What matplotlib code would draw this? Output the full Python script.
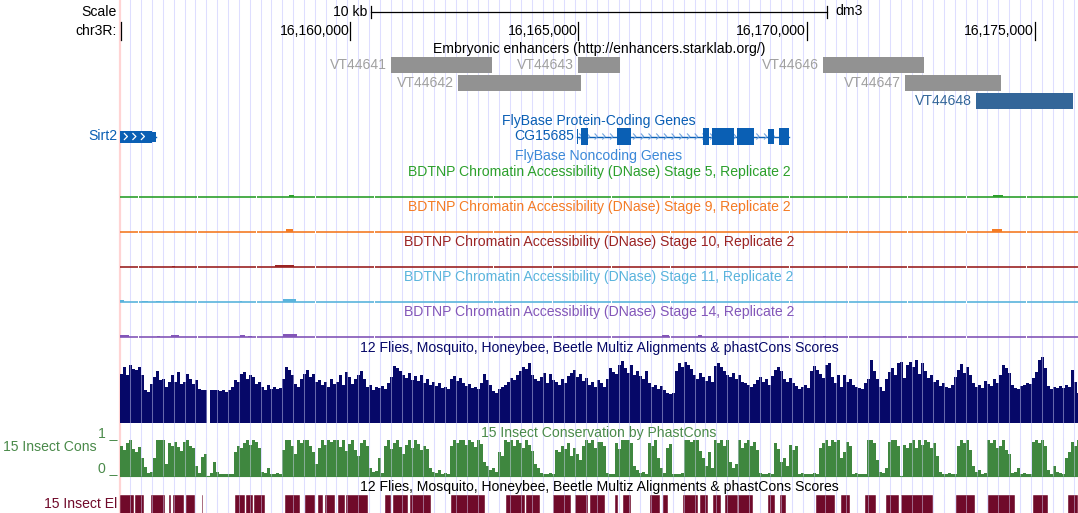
import numpy as np
import matplotlib
matplotlib.use("Agg")
import matplotlib.pyplot as plt
from matplotlib.patches import Rectangle

plt.rcParams['font.family'] = ['Liberation Sans', 'DejaVu Sans']
plt.rcParams['font.size'] = 10.1

W, H = 1078, 513
LEFT = 120  # first pixel of the data panel

# ---- region shown ----
CHROM = "chr3R"
VIEW_START = 16154960
VIEW_END = 16175940
TICKS = [16160000, 16165000, 16170000, 16175000]
SCALE_BAR_BP = 10000

# ---- Embryonic enhancers (starklab) ----
ENH_NAMES = ["VT44641", "VT44642", "VT44643", "VT44646", "VT44647", "VT44648"]
ENH_START = [16160895, 16162362, 16164990, 16170356, 16172152, 16173706]
ENH_END = [16163107, 16165056, 16165910, 16172568, 16174254, 16175831]

# ---- FlyBase genes ----
GENE_NAMES = ["Sirt2", "CG15685"]
GENE_TX = [(16150000, 16155748), (16164968, 16169611)]
GENE_CDS = [(16150000, 16154000), (16164968, 16169611)]
GENE_EXONS = [
    [(16150000, 16155652), (16155652, 16155748)],
    [(16164968, 16164990), (16165056, 16165202), (16165838, 16166151),
     (16167721, 16167859), (16167931, 16168407), (16168465, 16168845),
     (16169158, 16169283), (16169399, 16169611)],
]

# ---- BDTNP DNase accessibility, replicate 2 (start, end, signal) ----
DNASE_STAGES = [5, 9, 10, 11, 14]
DNASE_PEAKS = [
    [(16158661, 16158771, 1.5), (16174079, 16174298, 2.0)],
    [(16158595, 16158749, 2.5), (16174057, 16174276, 3.0)],
    [(16156099, 16156165, 1.0), (16158355, 16158771, 1.5)],
    [(16154960, 16155048, 1.5), (16155442, 16155573, 1.0), (16155748, 16155858, 1.0),
     (16156099, 16156230, 1.0), (16157588, 16157632, 1.0), (16158530, 16158814, 2.5)],
    [(16154960, 16155157, 1.5), (16155770, 16155836, 1.0), (16156077, 16156252, 1.5),
     (16157588, 16157698, 1.5), (16157763, 16157851, 1.0), (16158530, 16158836, 2.5),
     (16164530, 16164596, 1.0), (16166830, 16166983, 1.5), (16167618, 16167706, 1.5),
     (16170356, 16170421, 1.0)],
]

# ---- 12 flies multiz conservation, summarised in equal bins across the view ----
MULTIZ_SCORE = [
    .70, .80, .69, .83, .77, .76, .80, .69, .47, .44, .56, .66, .74, .61, .63, .51, .59, .69, .59, .73,
    .56, .59, .70, .63, .56, .61, .49, .47, .47, 0, .47, .47, .47, .46, .47, .44, .47, .51, .61, .59,
    .70, .73, .63, .69, .66, .56, .59, .51, .47, .54, .49, .51, .49, .50, .63, .80, .76, .69, .56, .51,
    .63, .70, .76, .66, .70, .59, .61, .54, .59, .51, .63, .56, .59, .69, .54, .73, .66, .56, .63, .69,
    .74, .63, .51, .54, .47, .51, .50, .53, .49, .57, .66, .81, .79, .74, .69, .64, .71, .61, .67, .60,
    .69, .57, .63, .54, .59, .53, .57, .50, .51, .49, .63, .67, .60, .64, .57, .53, .56, .50, .51, .49,
    .57, .70, .61, .54, .46, .43, .49, .51, .54, .59, .64, .61, .69, .74, .80, .77, .86, .69, .63, .60,
    .66, .71, .57, .70, .61, .59, .54, .63, .57, .67, .71, .76, .66, .70, .60, .64, .54, .59, .51, .61,
    .57, .51, .63, .79, .73, .70, .83, .89, .79, .71, .83, .69, .74, .67, .63, .74, .57, .51, .54, .49,
    .53, .47, .43, .41, .43, .74, .86, .80, .87, .83, .77, .69, .63, .71, .66, .60, .67, .59, .81, .86,
    .80, .74, .69, .66, .71, .63, .69, .59, .57, .54, .51, .56, .61, .66, .59, .63, .54, .67, .76, .80,
    .74, .63, .59, .64, .57, .53, .49, .51, .54, .50, .74, .81, .76, .70, .64, .83, .86, .66, .57, .69,
    .51, .69, .59, .63, .54, .51, .50, .49, .57, .63, .90, .74, .63, .51, .46, .63, .73, .79, .69, .86,
    .87, .64, .83, .87, .80, .90, .70, .86, .74, .64, .69, .59, .61, .53, .57, .51, .50, .54, .66, .76,
    .84, .71, .80, .69, .57, .51, .54, .50, .60, .56, .53, .63, .57, .69, .83, .79, .71, .54, .50, .49,
    .53, .54, .57, .56, .64, .73, .90, .94, .79, .53, .49, .51, .50, .53, .50, .54, .51, .76, .59, .43,
]

# ---- 15 insect phastCons, same bins ----
PHASTCONS = [
    .83, .72, .92, 1, .75, .67, .81, .50, .25, .08, .11, .50, 1, 1, 1, .33, .92, .83, .94, .81,
    .69, .94, 1, .83, .78, .28, .08, .53, .61, 0, .08, .39, .11, .06, .06, .06, .06, .06, .67, .83,
    .78, .92, 1, .86, 1, .94, .78, .11, .08, .22, .06, .06, .08, .06, .72, 1, 1, .83, .61, 1,
    .92, 1, 1, .83, .67, .33, .78, 1, .86, 1, .94, 1, 1, .81, 1, .69, .89, 1, .72, .56,
    .92, 1, .83, .22, .11, .14, .50, .08, .83, 1, .75, .92, 1, .81, .61, .86, 1, .78, 1, .89,
    .72, .83, .75, .22, .11, .08, .17, .06, .08, .06, .83, 1, .92, 1, 1, .86, 1, .94, .81, 1,
    .89, .39, .28, .17, .22, .11, .67, .56, 1, .94, 1, .83, 1, .92, .78, 1, .86, .69, .33, .22,
    .08, .06, .06, .08, .06, .72, .67, .83, .75, .92, .56, .78, .61, .44, .83, 1, .92, 1, .78, .94,
    .94, .83, .08, .06, .06, .92, .75, 1, 1, 1, .92, .28, .17, .08, .11, .06, .92, .83, 1, .50,
    .22, .08, .78, .89, .06, .06, .06, .08, 1, 1, .94, 1, 1, .69, .50, .28, .67, .22, 1, .92,
    1, .83, 1, .39, .22, .33, 1, .78, .92, 1, .83, .94, .72, .08, .06, .06, .08, .06, .92, .75,
    .39, .50, .28, .86, .72, .83, .06, .08, .06, .06, .06, .08, .06, .78, .92, 1, .83, 1, .94, 1,
    .50, .67, .94, .83, .06, .08, .06, .06, .06, 1, 1, .92, .44, .11, .08, .22, .94, 1, 1, .83,
    0, .86, .78, .92, 1, .78, 1, .86, 1, .94, .78, .92, .56, .11, .06, .06, .08, .06, .06, .83,
    1, .92, 1, .72, .28, .11, .17, .06, .08, 1, .92, 1, .78, .83, 1, .72, .61, .08, .11, .22,
    .06, .08, .06, .06, .94, 1, .92, 1, .83, .17, .06, .28, .11, .08, .06, .50, .67, .94, .83, 1,
]

# ---- 15 insect conserved elements ----
ELEM_START = [16154960, 16155295, 16155645, 16156026, 16156121, 16156412, 16156762, 16157472,
              16157726, 16157895, 16158567, 16159005, 16159296, 16159443, 16159734, 16159916,
              16160757, 16160939, 16161304, 16162215, 16163420, 16163858, 16164443, 16164918,
              16165246, 16165794, 16165976, 16166560, 16166852, 16167290, 16167655, 16167947,
              16168203, 16168505, 16169151, 16169405, 16170209, 16170756, 16171269, 16171742,
              16172070, 16173275, 16173969, 16174955, 16175721]
ELEM_END = [16155267, 16155486, 16155939, 16156083, 16156362, 16156596, 16156784, 16157691,
            16157873, 16158129, 16158895, 16159224, 16159406, 16159662, 16159881, 16160391,
            16160899, 16161267, 16161764, 16162947, 16163821, 16164151, 16164844, 16165209,
            16165575, 16165866, 16166157, 16166779, 16166961, 16167618, 16167837, 16168128,
            16168494, 16168823, 16169298, 16169550, 16170612, 16170940, 16171523, 16172012,
            16172765, 16173676, 16174553, 16175283, 16175940]

# ---- colours ----
GRID = '#dedeff'
ENH_GREY, ENH_LABEL = '#929292', '#a0a0a0'
ENH_HIGHLIGHT = {"VT44648": '#336699'}
GENE_BLUE = '#0a5fb4'
NONCODING_BLUE = '#3b88d8'
DNASE_COLORS = ['#2ca02c', '#f47b25', '#9b2323', '#5ab4dc', '#8356b8']
NAVY = '#060868'
CONS_GREEN = '#3f873f'
ELEM_RED = '#700a2a'

bp_per_px = (VIEW_END - VIEW_START) / (W - LEFT)


def px(n):
    return n * bp_per_px


fig = plt.figure(figsize=(W / 100, H / 100), dpi=100)
base = fig.add_axes([0, 0, 1, 1])
base.set_xlim(0, W)
base.set_ylim(H, 0)
base.axis('off')
ax = fig.add_axes([LEFT / W, 0, (W - LEFT) / W, 1], facecolor='none')
ax.set_xlim(VIEW_START, VIEW_END)
ax.set_ylim(H, 0)
ax.axis('off')
mid = (VIEW_START + VIEW_END) / 2

# guide lines and the panel edge
base.axvline(119.5, color='#ffd4d4', lw=1.6, zorder=0)
grid_x = [VIEW_START + px(p - LEFT) for p in np.arange(130.3, W, 10.85)]
for g in grid_x:
    ax.axvline(g, color=GRID, lw=0.75, zorder=0)

# scale bar
b0, b1 = mid - SCALE_BAR_BP / 2, mid + SCALE_BAR_BP / 2
ax.plot([b0, b1], [12, 12], color='k', lw=0.9)
ax.plot([b0, b0], [6, 18], color='k', lw=0.9)
ax.plot([b1, b1], [6, 18], color='k', lw=0.9)
ax.text(b0 - px(3), 12, f"{SCALE_BAR_BP // 1000} kb", ha='right', va='center')
ax.text(b1 + px(8), 11, "dm3", ha='left', va='center')
base.text(117, 12, "Scale", ha='right', va='center')

# base position ruler
base.text(117, 31, CHROM + ":", ha='right', va='center')
ax.plot([VIEW_START + px(0.7)] * 2, [22, 40], color='k', lw=0.9)
for t in TICKS:
    ax.plot([t, t], [22, 40], color='k', lw=0.9)
    ax.text(t - px(1), 31, f"{t:,}", ha='right', va='center')

# enhancers, packed into rows leaving room for the labels
ax.text(mid, 49, "Embryonic enhancers (http://enhancers.starklab.org/)", ha='center', va='center')
row_end = []
order = np.argsort(ENH_START)
for k in order:
    s, e, name = ENH_START[k], ENH_END[k], ENH_NAMES[k]
    row = None
    for r, end in enumerate(row_end):
        if s - px(64) > end:
            row = r
            break
    if row is None:
        row = len(row_end)
        row_end.append(e)
    row_end[row] = e
    yc = 65 + 18 * row
    box = ENH_HIGHLIGHT.get(name, ENH_GREY)
    lab = ENH_HIGHLIGHT.get(name, ENH_LABEL)
    ax.add_patch(Rectangle((s, yc - 8), e - s, 16, color=box, lw=0))
    ax.text(s - px(4), yc, name, ha='right', va='center', color=lab)


def chevrons(x0, x1, y, color, step=7.7, lw=0.8):
    for c in np.arange(x0 + px(step / 2), x1 - px(2), px(step)):
        ax.plot([c - px(1.6), c + px(1.2), c - px(1.6)], [y - 3, y, y + 3],
                color=color, lw=lw, solid_capstyle='butt', zorder=4)


# FlyBase genes
ax.text(mid, 121, "FlyBase Protein-Coding Genes", ha='center', va='center', color=GENE_BLUE)
gy = 136.5
for name, (t0, t1), (c0, c1), exons in zip(GENE_NAMES, GENE_TX, GENE_CDS, GENE_EXONS):
    v0, v1 = max(t0, VIEW_START), min(t1, VIEW_END)
    ax.plot([v0, v1], [gy, gy], color=GENE_BLUE, lw=1, zorder=3)
    chevrons(v0, v1, gy, '#6fa3e0')
    for e0, e1 in exons:
        a, b = max(e0, VIEW_START), min(e1, VIEW_END)
        h = 17 if (e0 >= c0 and e1 <= c1) else 12
        if b - a < px(6):
            h -= 2
        ax.add_patch(Rectangle((a, gy - h / 2), b - a, h, color=GENE_BLUE, lw=0, zorder=5))
        if b - a > px(28):
            for c in np.arange(a + px(6), b - px(4), px(8.5)):
                ax.plot([c - px(1.6), c + px(1.4), c - px(1.6)], [gy - 3, gy, gy + 3],
                        color='white', lw=0.9, zorder=6)
    if t0 < VIEW_START:
        base.text(117, gy, name, ha='right', va='center', color=GENE_BLUE)
    else:
        ax.text(t0 - px(3), gy, name, ha='right', va='center', color=GENE_BLUE)
ax.text(mid, 156, "FlyBase Noncoding Genes", ha='center', va='center', color=NONCODING_BLUE)

# DNase accessibility tracks
gap_x = [VIEW_START + px(p - LEFT) for p in np.arange(137.5, W, 59.2)]
for i, (stage, peaks, col) in enumerate(zip(DNASE_STAGES, DNASE_PEAKS, DNASE_COLORS)):
    ty, yb = 172 + 35 * i, 197 + 35 * i
    ax.text(mid, ty, f"BDTNP Chromatin Accessibility (DNase) Stage {stage}, Replicate 2",
            ha='center', va='center', color=col)
    ax.plot([VIEW_START, VIEW_END], [yb, yb], color=col, lw=1.2, zorder=3)
    for s, e, v in peaks:
        ax.add_patch(Rectangle((s, yb - v - 0.5), e - s, v + 0.5, color=col, lw=0, zorder=3))
    for g in gap_x:
        ax.add_patch(Rectangle((g, yb - 1.5), px(1), 3, color='white', lw=0, zorder=3.5))

edges = VIEW_START + np.arange(len(MULTIZ_SCORE) + 1) * px(3)

# multiz conservation
ax.text(mid, 348, "12 Flies, Mosquito, Honeybee, Beetle Multiz Alignments & phastCons Scores",
        ha='center', va='center', color=NAVY)
navy_base = 423
ax.stairs(navy_base - 70 * np.array(MULTIZ_SCORE), edges, baseline=navy_base,
          fill=True, color=NAVY, lw=0, zorder=2)

# 15 insect phastCons
ax.text(mid, 433, "15 Insect Conservation by PhastCons", ha='center', va='center', color='#4a8a4a')
cons_base = 476
ax.stairs(cons_base - 36 * np.array(PHASTCONS), edges, baseline=cons_base,
          fill=True, color=CONS_GREEN, lw=0, zorder=2)
ax.plot([VIEW_START, VIEW_END], [cons_base - 0.5] * 2, color=CONS_GREEN, lw=0.8, zorder=2)
base.text(97, 447, "15 Insect Cons", ha='right', va='center', color='#4a8a4a')
base.text(117, 433, "1 _", ha='right', va='center', color='#4a8a4a')
base.text(117, 468, "0 _", ha='right', va='center', color='#4a8a4a')

# conserved elements
ax.text(mid, 487, "12 Flies, Mosquito, Honeybee, Beetle Multiz Alignments & phastCons Scores",
        ha='center', va='center', color='black')
ax.broken_barh([(s, e - s) for s, e in zip(ELEM_START, ELEM_END)], (495, 20),
               facecolors=ELEM_RED, edgecolor='white', linewidth=0.3, zorder=2)
base.text(117, 504, "15 Insect El", ha='right', va='center', color=ELEM_RED)

# guides show faintly through the wiggle tracks
for y0, y1 in [(350, navy_base), (438, cons_base), (495, H)]:
    ax.vlines(grid_x, y0, y1, color='#dcdcff', alpha=0.45, lw=0.75, zorder=2.5)

fig.savefig("out.png", dpi=100)
